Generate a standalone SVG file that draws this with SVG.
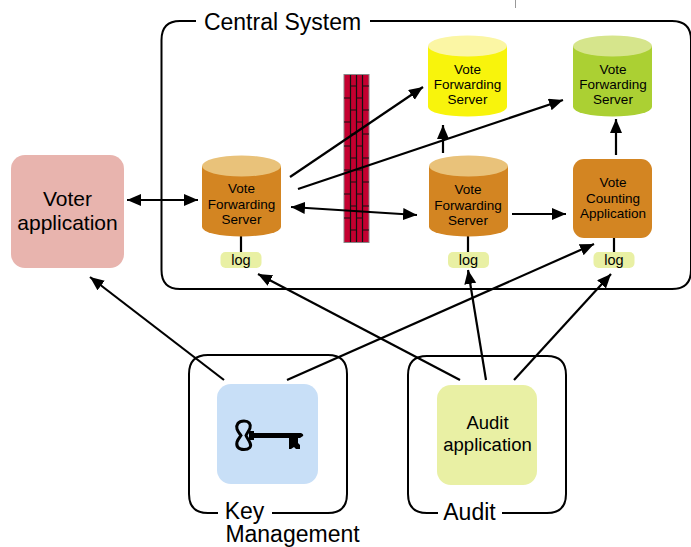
<svg xmlns="http://www.w3.org/2000/svg" width="691" height="547" viewBox="0 0 691 547">
<defs>
<marker id="a" markerUnits="userSpaceOnUse" markerWidth="15" markerHeight="13" refX="14" refY="6" orient="auto-start-reverse"><path d="M0 0L14 6L0 12z" fill="#000"/></marker>
</defs>
<style>
text{font-family:"Liberation Sans",Arial,sans-serif;fill:#000;text-anchor:middle}
.s{font-size:13.500px}.b{font-size:23px}.v{font-size:21px}.m{font-size:18.500px}.l{font-size:14.500px}
.f{fill:none;stroke:#000;stroke-width:2}
.c{stroke:#000;stroke-width:2.200;fill:none;marker-end:url(#a)}
.p{stroke:#000;stroke-width:2.200;fill:none}
.log{fill:#e9f0a4}
.br{stroke:#111;stroke-width:1.200}
</style>
<rect width="691" height="547" fill="#fff"/>
<path d="M515.500 0V8" stroke="#999" stroke-width="1"/>
<g id="central-system">
<path class="f" d="M196 21H180Q161.500 21 161.500 40V270Q161.500 289 180 289H672Q691 289 691 270V40Q691 21 672 21H370"/>
<text class="b" x="282.500" y="30">Central System</text>
</g>
<g id="firewall">
<rect x="344" y="74.500" width="25" height="168" fill="#c40030" stroke="#888" stroke-width="1"/>
<path class="br" fill="none" d="M350.500 75V242M356.500 75V242M362.500 75V242M344 98H350.500M344 122H350.500M344 146H350.500M344 170H350.500M344 194H350.500M344 218H350.500M350.500 86H356.500M350.500 110H356.500M350.500 134H356.500M350.500 158H356.500M350.500 182H356.500M350.500 206H356.500M350.500 230H356.500M356.500 98H362.500M356.500 122H362.500M356.500 146H362.500M356.500 170H362.500M356.500 194H362.500M356.500 218H362.500M362.500 86H369M362.500 110H369M362.500 134H369M362.500 158H369M362.500 182H369M362.500 206H369M362.500 230H369"/>
</g>
<g id="connectors">
<path class="c" marker-start="url(#a)" d="M127 200H198"/>
<path class="c" d="M290 177L423 87"/>
<path class="c" d="M298 189L563 100"/>
<path class="c" marker-start="url(#a)" d="M291 207L417 215"/>
<path class="c" d="M443 153V125"/>
<path class="c" d="M512 214H566"/>
<path class="c" d="M616 155V119"/>
<path class="p" d="M241 236V252M468 236V252M614 238V252"/>
<path class="c" d="M224 380L90 277"/>
<path class="c" d="M287 380L594 244"/>
<path class="c" d="M460 380L258 274"/>
<path class="c" d="M486 380L468 270"/>
<path class="c" d="M514 380L611 274"/>
</g>
<g id="voter-application">
<rect x="11" y="155" width="113" height="113" rx="14" fill="#e8b4ae"/>
<text class="v" x="67.500" y="206">Voter</text><text class="v" x="67.500" y="230">application</text>
</g>
<g id="vfs-left">
<path d="M202 166V227A39.500 9.500 0 0 0 281 227V166z" fill="#d38522"/>
<ellipse cx="241.500" cy="166" rx="39.500" ry="10.500" fill="#e9c27a"/>
<text class="s" x="241.500" y="193">Vote</text><text class="s" x="241.500" y="209">Forwarding</text><text class="s" x="241.500" y="224">Server</text>
</g>
<g id="log-left"><rect class="log" x="220.500" y="252" width="41" height="16" rx="5"/><text class="l" x="241" y="265">log</text></g>
<g id="vfs-mid">
<path d="M429 166V227A39.500 9.500 0 0 0 508 227V166z" fill="#d38522"/>
<ellipse cx="468.500" cy="166" rx="39.500" ry="10.500" fill="#e9c27a"/>
<text class="s" x="468" y="194">Vote</text><text class="s" x="468" y="210">Forwarding</text><text class="s" x="468" y="225">Server</text>
</g>
<g id="log-mid"><rect class="log" x="448" y="252" width="41" height="16" rx="5"/><text class="l" x="468.500" y="265">log</text></g>
<g id="vfs-yellow">
<path d="M428 46V107A39.500 9.500 0 0 0 507 107V46z" fill="#f8f40c"/>
<ellipse cx="467.500" cy="46" rx="39.500" ry="10.500" fill="#fbf6a4"/>
<text class="s" x="467.500" y="74">Vote</text><text class="s" x="467.500" y="89">Forwarding</text><text class="s" x="467.500" y="104">Server</text>
</g>
<g id="vfs-green">
<path d="M573 46V107A39.500 9.500 0 0 0 652 107V46z" fill="#abd033"/>
<ellipse cx="612.500" cy="46" rx="39.500" ry="10.500" fill="#d6e58c"/>
<text class="s" x="613" y="74">Vote</text><text class="s" x="613" y="89">Forwarding</text><text class="s" x="613" y="104">Server</text>
</g>
<g id="vote-counting">
<rect x="573" y="159" width="79" height="79" rx="11" fill="#d38522"/>
<text class="s" x="613" y="187">Vote</text><text class="s" x="613" y="203">Counting</text><text class="s" x="613" y="218">Application</text>
</g>
<g id="log-right"><rect class="log" x="593.500" y="252" width="41" height="16" rx="5"/><text class="l" x="614" y="265">log</text></g>
<g id="key-management">
<path class="f" d="M218 513H208Q189 513 189 494V374Q189 355 208 355H328Q347 355 347 374V494Q347 513 328 513H272"/>
<rect x="217" y="384" width="101" height="100" rx="14" fill="#c8dff7"/>
<path fill="none" stroke="#000" stroke-width="3" d="M244 421C238 421 236 425 237 429C238 432 240 434 241 435.500C240 437 238 439 237 442C236 446 238 449.500 244 449.500C249 449.500 252 447 250 443C249 440 247 438 246 435.500C247 433 249 431 250 428C251 424 249 421 244 421z"/>
<path fill="#000" d="M249 431H254V433H301Q304 434 303 436L300 438H254V440H249zM289 438H298V443L300 445V449H296L294 447L291 449H289z"/>
<text class="b" x="244.500" y="519">Key</text><text class="b" x="292.500" y="541.500">Management</text>
</g>
<g id="audit">
<path class="f" d="M438 513H427Q408 513 408 494V375Q408 356 427 356H547Q566 356 566 375V494Q566 513 547 513H502"/>
<rect x="437" y="385" width="100" height="100" rx="14" fill="#e9f0a4"/>
<text class="m" x="487.500" y="429">Audit</text><text class="m" x="487.500" y="451">application</text>
<text class="b" x="469.500" y="520">Audit</text>
</g>
</svg>
